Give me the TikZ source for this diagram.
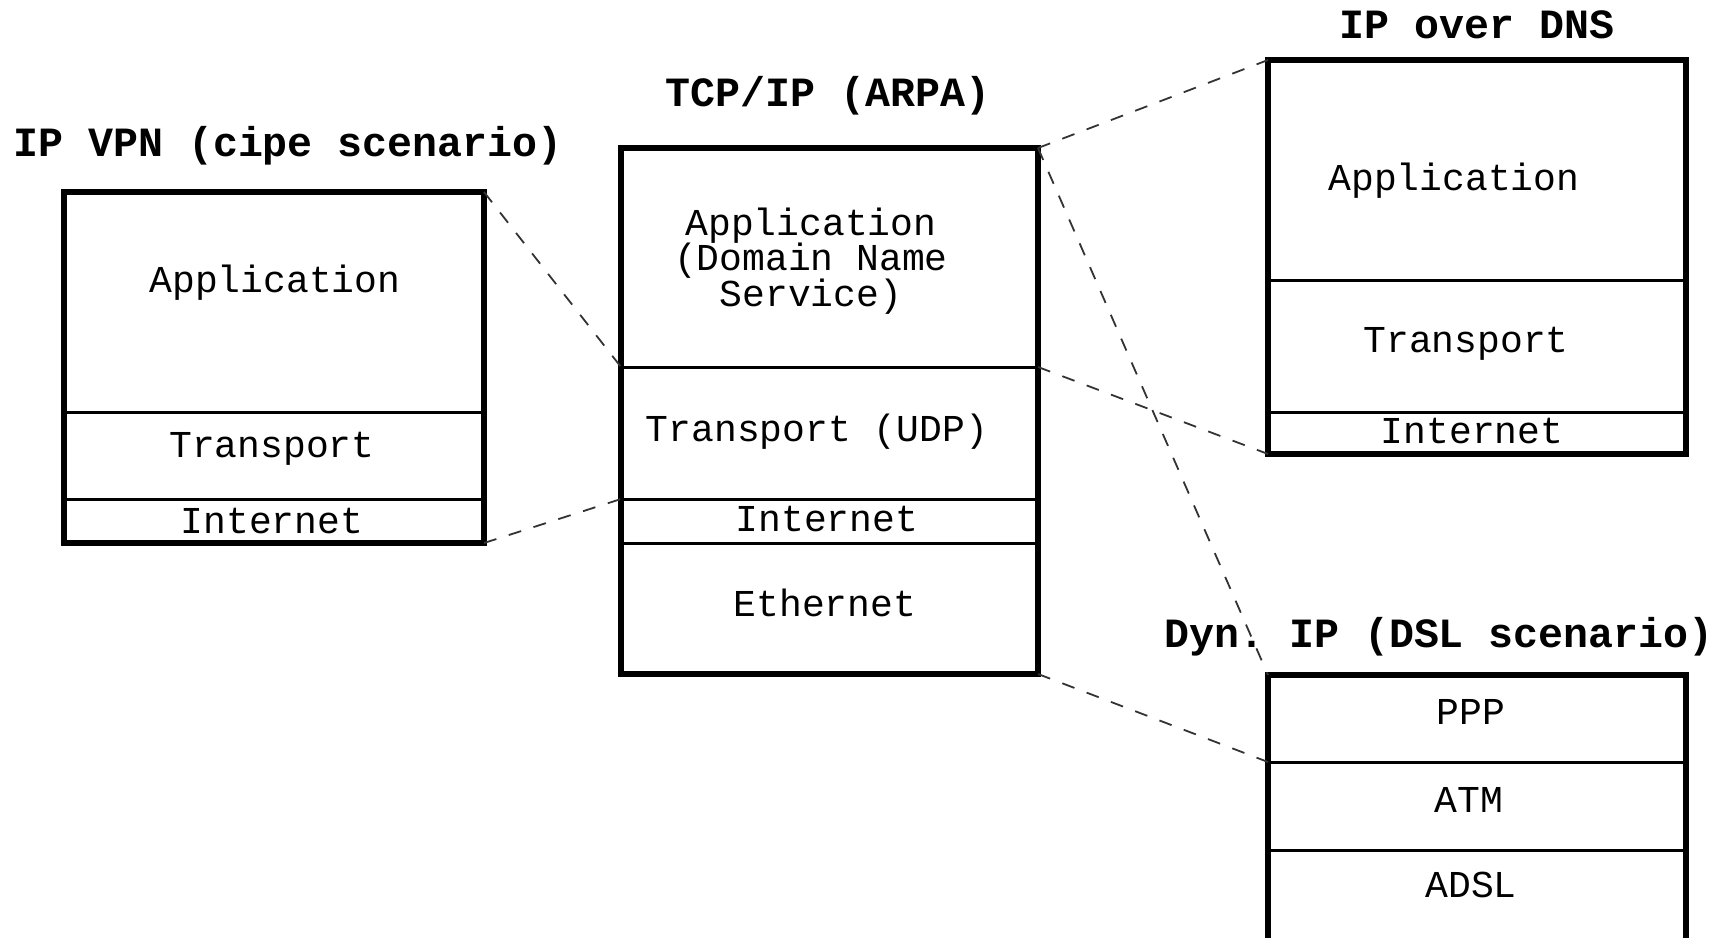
\documentclass[tikz,border=0pt]{standalone}
\usepackage{fontspec}
\setmonofont{Liberation Mono}
\begin{document}
\begin{tikzpicture}[x=0.5pt,y=-0.5pt,
  layer/.style={draw, line width=1.5pt, inner sep=0pt, outer sep=0pt, anchor=north west},
  stack/.style={draw, line width=2.8pt, inner sep=0pt, outer sep=0pt, anchor=north west},
  title/.style={font=\fontsize{20.8}{22}\selectfont\ttfamily\bfseries, inner sep=0pt},
  lbl/.style={font=\fontsize{19}{17.75}\selectfont\ttfamily, inner sep=0pt, align=center},
  link/.style={draw=black!80, line width=0.9pt, dash pattern=on 6.5pt off 6.5pt}]
\useasboundingbox (0,0) rectangle (1724,937);
% ---------- IP VPN ----------
\node[layer, minimum width=210pt, minimum height=110pt] (vpnapp) at (64,192) {};
\node[layer, minimum width=210pt, minimum height=43.5pt] (vpntrans) at (64,412) {};
\node[layer, minimum width=210pt, minimum height=22pt] (vpninet) at (64,499) {};
\node[stack, minimum width=210pt, minimum height=175.5pt] (vpn) at (64,192) {};
\node[title] (vpntitle) at (288,146) {IP VPN (cipe scenario)};
\node[lbl] (vpnapptxt) at (275,283) {Application};
\node[lbl] (vpntranstxt) at (272,449) {Transport};
\node[lbl] (vpninettxt) at (272,521) {Internet};
% ---------- TCP/IP ----------
\node[layer, minimum width=208.5pt, minimum height=109.5pt] (tcpapp) at (621,148) {};
\node[layer, minimum width=208.5pt, minimum height=66pt] (tcptrans) at (621,367) {};
\node[layer, minimum width=208.5pt, minimum height=22pt] (tcpinet) at (621,499) {};
\node[layer, minimum width=208.5pt, minimum height=65.5pt] (tcpeth) at (621,543) {};
\node[stack, minimum width=208.5pt, minimum height=263pt] (tcp) at (621,148) {};
\node[title] (tcptitle) at (828,96) {TCP/IP (ARPA)};
\node[lbl] (tcpapptxt) at (811,261) {Application\\(Domain Name\\Service)};
\node[lbl] (tcptranstxt) at (817,432) {Transport (UDP)};
\node[lbl] (tcpinettxt) at (827,519) {Internet};
\node[lbl] (tcpethtxt) at (825,603) {Ethernet};
% ---------- IP over DNS ----------
\node[layer, minimum width=209pt, minimum height=110pt] (dnsapp) at (1268,60) {};
\node[layer, minimum width=209pt, minimum height=66pt] (dnstrans) at (1268,280) {};
\node[layer, minimum width=209pt, minimum height=21pt] (dnsinet) at (1268,412) {};
\node[stack, minimum width=209pt, minimum height=197pt] (dns) at (1268,60) {};
\node[title] (dnstitle) at (1477,25) {IP over DNS};
\node[lbl] (dnsapptxt) at (1454,181) {Application};
\node[lbl] (dnstranstxt) at (1466,344) {Transport};
\node[lbl] (dnsinettxt) at (1472,431) {Internet};
% ---------- Dyn. IP ----------
\node[layer, minimum width=209pt, minimum height=43.5pt] (dslppp) at (1268,675) {};
\node[layer, minimum width=209pt, minimum height=44pt] (dslatm) at (1268,762) {};
\node[layer, minimum width=209pt, minimum height=46pt] (dsladsl) at (1268,850) {};
\node[stack, minimum width=209pt, minimum height=133.5pt] (dsl) at (1268,675) {};
\node[title] (dsltitle) at (1439,637) {Dyn. IP (DSL scenario)};
\node[lbl] (dslppptxt) at (1471,712) {PPP};
\node[lbl] (dslatmtxt) at (1469,800) {ATM};
\node[lbl] (dsladsltxt) at (1471,885) {ADSL};
% ---------- connectors ----------
\draw[link] (vpn.north east) -- (tcptrans.north west);
\draw[link] (vpn.south east) -- (tcpinet.north west);
\draw[link] (tcp.north east) -- (dns.north west);
\draw[link] (tcptrans.north east) -- (dns.south west);
\draw[link] (tcp.north east) -- (dsl.north west);
\draw[link] (tcp.south east) -- (dslatm.north west);
\end{tikzpicture}
\end{document}
